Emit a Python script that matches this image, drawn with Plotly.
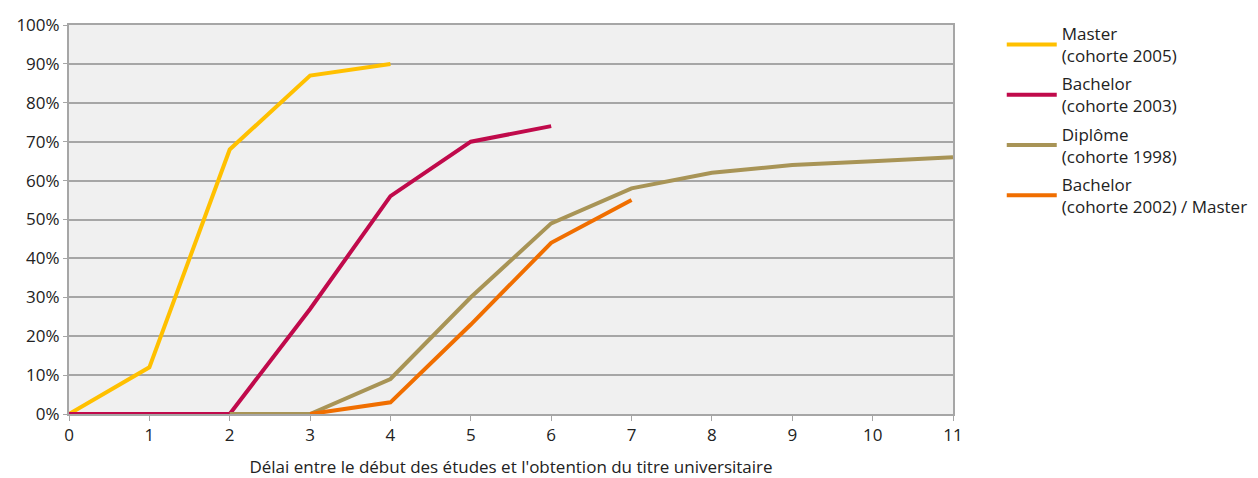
import plotly.graph_objects as go

years_master = [0, 1, 2, 3, 4]
master_2005 = [0, 12, 68, 87, 90]

years_bach03 = [0, 1, 2, 3, 4, 5, 6]
bachelor_2003 = [0, 0, 0, 27, 56, 70, 74]

years_dipl = [2, 3, 4, 5, 6, 7, 8, 9, 10, 11]
diplome_1998 = [0, 0, 9, 30, 49, 58, 62, 64, 65, 66]

years_bach02 = [3, 4, 5, 6, 7]
bachelor_2002 = [0, 3, 23, 44, 55]

names = ["Master<br>(cohorte 2005)", "Bachelor<br>(cohorte 2003)",
         "Diplôme<br>(cohorte 1998)", "Bachelor<br>(cohorte 2002) / Master"]
colors = ["#FFC000", "#C00A4B", "#A89456", "#F06E00"]

fig = go.Figure()
for i, (xs, ys, n, c) in enumerate([(years_master, master_2005, names[0], colors[0]),
                                    (years_bach03, bachelor_2003, names[1], colors[1]),
                                    (years_dipl, diplome_1998, names[2], colors[2]),
                                    (years_bach02, bachelor_2002, names[3], colors[3])]):
    fig.add_trace(go.Scatter(x=xs, y=ys, mode="lines", name=n, legendgroup=f"g{i}",
                             line=dict(color=c, width=4), cliponaxis=False))

font = "Open Sans, Noto Sans, sans-serif"
# page body has an 8px margin: shift the figure accordingly
fig.update_layout(
    width=1250, height=470,
    margin=dict(l=61, r=305, t=17, b=64, autoexpand=False),
    paper_bgcolor="white", plot_bgcolor="#F0F0F0",
    font=dict(family=font, size=17, color="#222222"),
    showlegend=True,
    legend=dict(xref="container", yref="container", x=0.795, y=0.983,
                xanchor="left", yanchor="top",
                font=dict(size=17, family=font, color="#222222"),
                itemwidth=50, tracegroupgap=3, bgcolor="rgba(0,0,0,0)"),
    xaxis=dict(range=[0, 11], dtick=1, tick0=0, showgrid=False,
               showline=True, linecolor="#A6A6A6", linewidth=2, mirror=True,
               ticks="outside", ticklen=5, tickcolor="#A6A6A6",
               zeroline=False, automargin=False,
               title=dict(text="Délai entre le début des études et l'obtention du titre universitaire",
                          font=dict(size=17), standoff=16)),
    yaxis=dict(range=[0, 100], dtick=10, tick0=0, ticksuffix="%",
               showgrid=True, gridcolor="#A6A6A6", gridwidth=1.5,
               showline=True, linecolor="#A6A6A6", linewidth=2, mirror=True,
               ticks="outside", ticklen=4, tickcolor="#A6A6A6",
               zeroline=False, automargin=False),
)

fig.write_html("out.html")
